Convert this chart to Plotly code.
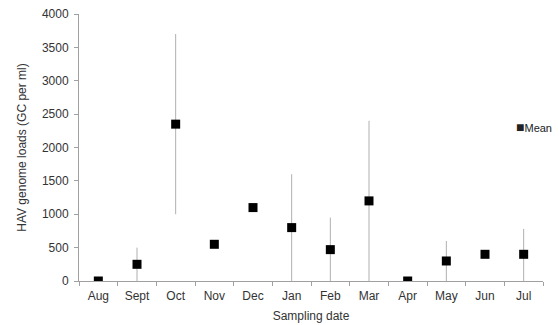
import plotly.graph_objects as go

months = ["Aug", "Sept", "Oct", "Nov", "Dec", "Jan", "Feb", "Mar", "Apr", "May", "Jun", "Jul"]
mean_values = [0, 250, 2350, 550, 1100, 800, 470, 1200, 0, 300, 400, 400]
err_plus = [0, 250, 1350, 0, 0, 800, 480, 1200, 0, 300, 0, 380]
err_minus = [0, 250, 1350, 0, 0, 800, 470, 1200, 0, 300, 0, 400]
y_ticks = [0, 500, 1000, 1500, 2000, 2500, 3000, 3500, 4000]
series_name = "Mean"

fig = go.Figure()
fig.add_trace(go.Scatter(
    x=months, y=mean_values, mode="markers", name=series_name,
    marker=dict(symbol="square", size=9, color="black"),
    error_y=dict(type="data", symmetric=False, array=err_plus, arrayminus=err_minus,
                 color="#b0b0b0", thickness=1, width=0),
    showlegend=False,
))

font = dict(family="Liberation Sans, Arial, sans-serif", size=12, color="#333333")
fig.add_annotation(
    x=0.938, y=0.575, xref="paper", yref="paper", xanchor="left", yanchor="middle",
    showarrow=False,
    text="<span style='font-size:14px'>\u25a0</span>" + series_name,
    font=dict(family="Liberation Sans, Arial, sans-serif", size=11, color="#222222"),
)

fig.update_layout(
    width=559, height=325,
    margin=dict(l=79, r=16, t=14, b=44, autoexpand=False),
    paper_bgcolor="white", plot_bgcolor="white",
    font=font,
    showlegend=False,
    xaxis=dict(
        type="category", range=[-0.5, 11.5], tickson="boundaries",
        showline=True, linecolor="#a0a0a0", linewidth=1,
        ticks="outside", ticklen=4, tickcolor="#a0a0a0",
        ticklabelstandoff=4, automargin=False,
        showgrid=False, zeroline=False,
        title=dict(text="Sampling date", font=font, standoff=9),
    ),
    yaxis=dict(
        range=[0, 4000], tickvals=y_ticks,
        showline=True, linecolor="#a0a0a0", linewidth=1,
        ticks="outside", ticklen=4, tickcolor="#a0a0a0",
        ticklabelstandoff=3, automargin=False,
        showgrid=False, zeroline=False,
        title=dict(text="HAV genome loads (GC per ml)", font=font, standoff=12),
    ),
)

fig.write_html("out.html", config={"displayModeBar": False},
               post_script="document.body.style.margin='0';")
